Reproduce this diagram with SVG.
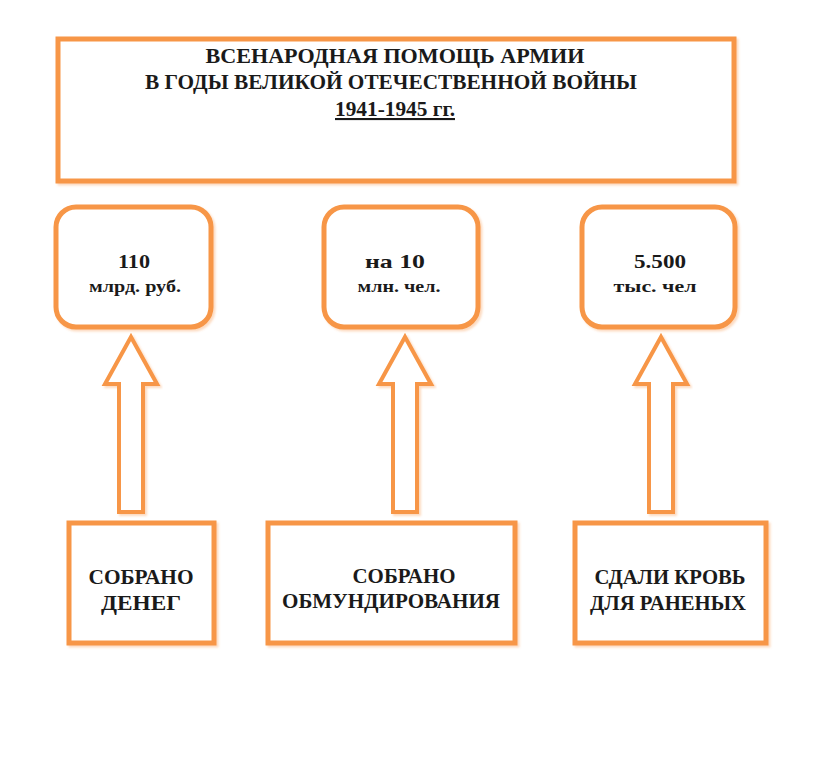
<svg xmlns="http://www.w3.org/2000/svg" width="816" height="767" viewBox="0 0 816 767">
<defs>
<filter id="sh" x="-10%" y="-10%" width="120%" height="120%">
<feDropShadow dx="2" dy="2" stdDeviation="1.2" flood-color="#F79646" flood-opacity="0.35"/>
</filter>
<style>
.box{fill:#FFFFFF;stroke:#F79646;stroke-width:5;filter:url(#sh)}
.arr{fill:#FFFFFF;stroke:#F79646;stroke-width:4;stroke-linejoin:miter;filter:url(#sh)}
.t{font-family:"Liberation Serif","DejaVu Serif","Times New Roman",serif;font-weight:bold;fill:#1A1A1A;text-anchor:middle}
.h{font-size:21px}
.v{font-size:19px}
.u{font-size:16px}
.b{font-size:20px}
</style>
</defs>
<rect width="816" height="767" fill="#FFFFFF"/>
<g id="title">
<rect class="box" x="58" y="39" width="676" height="142"/>
<text class="t h" x="395" y="63" textLength="379" lengthAdjust="spacingAndGlyphs">ВСЕНАРОДНАЯ ПОМОЩЬ  АРМИИ</text>
<text class="t h" x="391" y="89" textLength="492" lengthAdjust="spacingAndGlyphs">В ГОДЫ ВЕЛИКОЙ ОТЕЧЕСТВЕННОЙ ВОЙНЫ</text>
<text class="t h" x="395" y="116" textLength="120" lengthAdjust="spacingAndGlyphs" text-decoration="underline">1941-1945 гг.</text>
</g>
<g id="res1">
<rect class="box" x="56" y="207" width="155" height="120" rx="20"/>
<text class="t v" x="134" y="268" textLength="32" lengthAdjust="spacingAndGlyphs">110</text>
<text class="t u" x="135" y="292" textLength="92" lengthAdjust="spacingAndGlyphs">млрд. руб.</text>
</g>
<g id="res2">
<rect class="box" x="324" y="207" width="154" height="120" rx="20"/>
<text class="t v" x="395" y="268" textLength="60" lengthAdjust="spacingAndGlyphs">на 10</text>
<text class="t u" x="399" y="292" textLength="83" lengthAdjust="spacingAndGlyphs">млн. чел.</text>
</g>
<g id="res3">
<rect class="box" x="582" y="207" width="153" height="120" rx="20"/>
<text class="t v" x="660" y="268" textLength="52" lengthAdjust="spacingAndGlyphs">5.500</text>
<text class="t u" x="655" y="292" textLength="83" lengthAdjust="spacingAndGlyphs">тыс. чел</text>
</g>
<g id="connectors">
<path class="arr" d="M131,337 L157,384 L143,384 L143,512 L119,512 L119,384 L105,384 Z"/>
<path class="arr" d="M405,337 L431,384 L417,384 L417,512 L393,512 L393,384 L379,384 Z"/>
<path class="arr" d="M661,337 L687,384 L673,384 L673,512 L649,512 L649,384 L635,384 Z"/>
</g>
<g id="src1">
<rect class="box" x="69" y="523" width="145" height="120"/>
<text class="t b" x="141" y="584" textLength="105" lengthAdjust="spacingAndGlyphs">СОБРАНО</text>
<text class="t b" x="141" y="610" textLength="80" lengthAdjust="spacingAndGlyphs">ДЕНЕГ</text>
</g>
<g id="src2">
<rect class="box" x="268" y="523" width="247" height="120"/>
<text class="t b" x="404" y="583" textLength="103" lengthAdjust="spacingAndGlyphs">СОБРАНО</text>
<text class="t b" x="391" y="608" textLength="218" lengthAdjust="spacingAndGlyphs">ОБМУНДИРОВАНИЯ</text>
</g>
<g id="src3">
<rect class="box" x="575" y="523" width="191" height="120"/>
<text class="t b" x="670" y="584" textLength="151" lengthAdjust="spacingAndGlyphs">СДАЛИ  КРОВЬ</text>
<text class="t b" x="668" y="610" textLength="156" lengthAdjust="spacingAndGlyphs">ДЛЯ РАНЕНЫХ</text>
</g>
</svg>
